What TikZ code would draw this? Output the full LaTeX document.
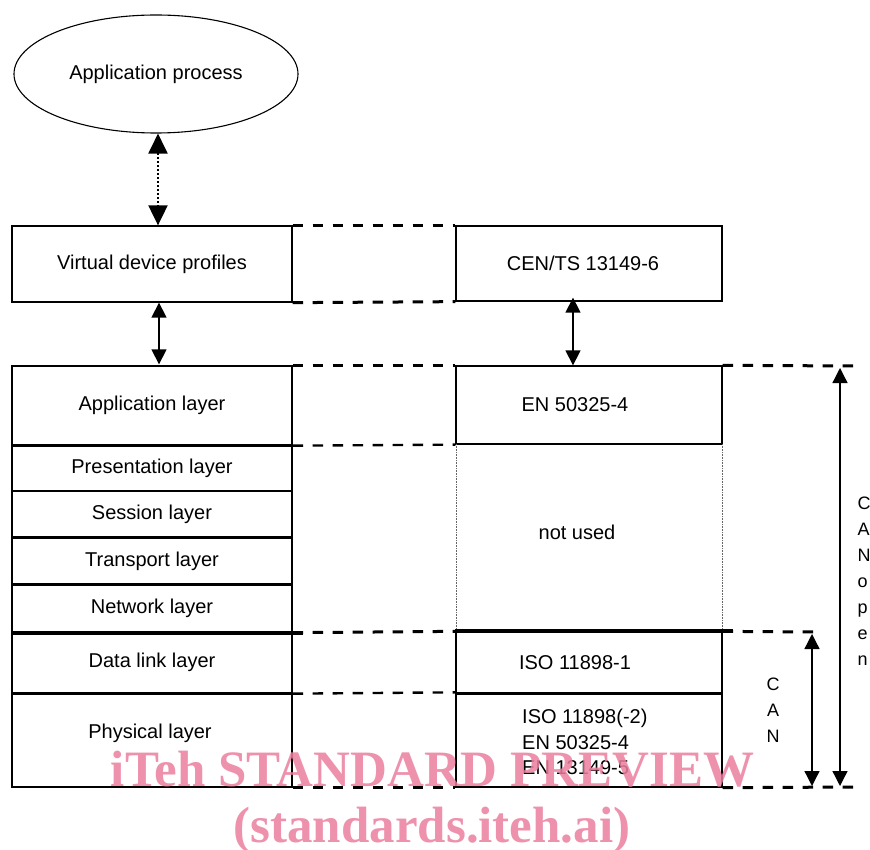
\documentclass[tikz,border=0pt]{standalone}
\usepackage{fontspec}
\setmainfont{Liberation Sans}
\newfontfamily\wmfont{Liberation Serif}
\usetikzlibrary{arrows.meta,shapes.geometric}
\definecolor{wmpink}{RGB}{235,126,158}
\begin{document}
\begin{tikzpicture}[x=1pt,y=-1pt,
  lbl/.style={font=\fontsize{20}{24}\selectfont, inner sep=0pt},
  letters/.style={font=\fontsize{18}{26}\selectfont, inner sep=0pt},
  box/.style={draw, line width=1.3pt, rectangle, inner sep=0pt, lbl},
  blank/.style={draw, line width=1.3pt, rectangle, inner sep=0pt},
  sepline/.style={line width=2.2pt},
  heavysep/.style={line width=3.8pt},
  bdash/.style={line width=3pt, dash pattern=on 10.5pt off 9.5pt},
  tdash/.style={line width=2.4pt, dash pattern=on 10.5pt off 9.5pt},
  fineDots/.style={line width=0.8pt, draw=black!60, dash pattern=on 0.8pt off 0.8pt},
  biarrow/.style={line width=1.3pt, {Triangle[length=15pt,width=15pt]}-{Triangle[length=15pt,width=15pt]}},
  dotarrow/.style={line width=2pt, dash pattern=on 2pt off 2pt,
    {Triangle[length=20pt,width=19pt]}-{Triangle[length=20pt,width=19pt]}},
  wm/.style={font=\wmfont\bfseries\fontsize{51}{51}\selectfont, text=wmpink, opacity=0.85, inner sep=0pt}
]
\useasboundingbox (0,0) rectangle (870,850);

% application process
\node[draw, ellipse, line width=1.1pt, minimum width=284, minimum height=118, lbl] (ap) at (156,74) {Application process};

% upper row: profiles
\node[box, minimum width=280, minimum height=76] (vdp) at (152,264) {Virtual device profiles};
\node[blank, minimum width=266, minimum height=75] (cen) at (589,263.5) {};
\node[lbl] (centxt) at (583,263) {CEN/TS 13149-6};

% left column: OSI layers
\node[box, minimum width=280, minimum height=79] (app)  at (152,405.5) {Application layer};
\node[box, minimum width=280, minimum height=46] (pres) at (152,468)   {Presentation layer};
\node[box, minimum width=280, minimum height=47] (sess) at (152,514.5) {Session layer};
\node[box, minimum width=280, minimum height=47] (tran) at (152,561.5) {Transport layer};
\node[box, minimum width=280, minimum height=47] (netw) at (152,608.5) {Network layer};
\node[box, minimum width=280, minimum height=61] (dl)   at (152,662.5) {Data link layer};
\node[blank, minimum width=280, minimum height=94] (phys) at (152,740) {};
\node[lbl] (physlbl) at (150,733) {Physical layer};

% right column: standards
\node[blank, minimum width=266, minimum height=78] (en) at (589,405) {};
\node[lbl] (entxt) at (575,405) {EN 50325-4};
\coordinate (nuTL) at (456,444);
\coordinate (nuBL) at (456,632);
\coordinate (nuTR) at (722,444);
\coordinate (nuBR) at (722,632);
\draw[fineDots] (nuTL) -- (nuBL);
\draw[fineDots] (nuTR) -- (nuBR);
\node[lbl] (notused) at (577,532) {not used};
\node[blank, minimum width=266, minimum height=61] (iso1) at (589,662.5) {};
\node[lbl] (isotxt) at (575,663) {ISO 11898-1};
\node[blank, minimum width=266, minimum height=94] (rphys) at (589,740) {};
\node[lbl, anchor=west, align=left, font=\fontsize{20}{25.5}\selectfont] (rphystxt) at (522,742)
  {ISO 11898(-2)\\EN 50325-4\\EN 13149-5};

% heavier layer boundaries
\draw[sepline] (app.south west) -- (app.south east);
\draw[sepline] (tran.north west) -- (tran.north east);
\draw[sepline] (netw.north west) -- (netw.north east);
\draw[heavysep] (netw.south west) -- ([xshift=10pt]netw.south east);
\draw[sepline] (dl.south west) -- (dl.south east);
\draw[heavysep] (iso1.north west) -- ([xshift=10pt]iso1.north east);
\draw[sepline] (iso1.south west) -- (iso1.south east);

% dashed correspondences between the columns
\draw[tdash] (vdp.north east) -- (cen.north west);
\draw[bdash] (vdp.south east) -- (cen.south west);
\draw[tdash] (app.north east) -- (en.north west);
\draw[tdash] (app.south east) -- (en.south west);
\draw[bdash] (netw.south east) -- (iso1.north west);
\draw[tdash] (dl.south east) -- (rphys.north west);
\draw[bdash] (phys.south east) -- (rphys.south west);

% extents of CANopen and CAN
\coordinate (coTop) at (860,366);
\coordinate (canTop) at (816,632);
\coordinate (coBot) at (860,787);
\draw[bdash] (en.north east) -- (coTop);
\draw[bdash] (iso1.north east) -- (canTop);
\draw[bdash] (rphys.south east) -- (coBot);

\coordinate (coA) at (840,368);
\coordinate (coB) at (840,786);
\coordinate (canA) at (812,634);
\coordinate (canB) at (812,786);
\draw[biarrow] (coA) -- (coB);
\draw[biarrow] (canA) -- (canB);
\node[letters, anchor=north west, align=left] (colbl) at (857.5,497) {C\\A\\N\\o\\p\\e\\n};
\node[letters, anchor=north, align=center] (canlbl) at (773,678) {C\\A\\N};

% interactions
\draw[dotarrow] ([xshift=2pt]ap.south) -- ([xshift=2pt]ap.south |- vdp.north);
\draw[biarrow] ([xshift=7pt]vdp.south) -- ([xshift=7pt,yshift=1pt]vdp.south |- app.north);
\draw[biarrow] ([xshift=-16pt,yshift=4pt]cen.south) -- ([xshift=-16pt]cen.south |- en.north);

% overprinted notice
\node[wm, anchor=base] (wm1) at (432.5,786) {iTeh STANDARD PREVIEW};
\node[wm, anchor=base] (wm2) at (432,842) {(standards.iteh.ai)};
\end{tikzpicture}
\end{document}
